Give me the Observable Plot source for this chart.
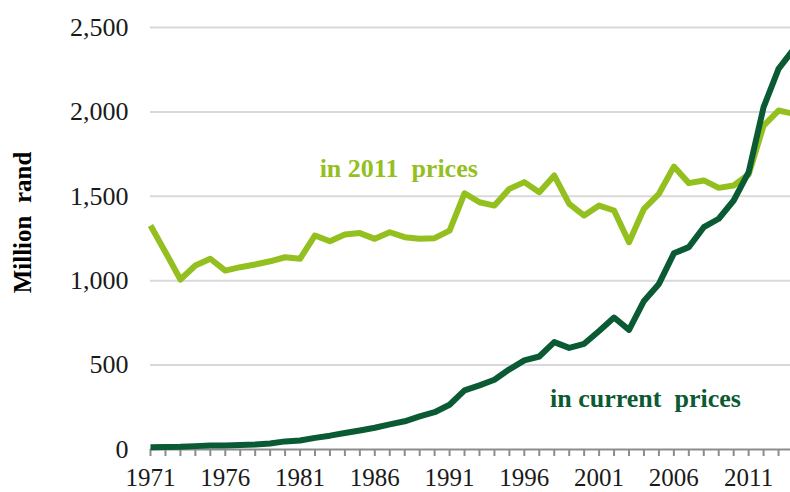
<!DOCTYPE html>
<html>
<head>
<meta charset="utf-8">
<script src="https://cdn.jsdelivr.net/npm/d3@7"></script>
<script src="https://cdn.jsdelivr.net/npm/@observablehq/plot@0.6"></script>
<style>
  html, body { margin: 0; padding: 0; background: #ffffff; }
  #chart svg { display: block; }
</style>
</head>
<body>
<div id="chart"></div>
<script>
const years = [1971, 1972, 1973, 1974, 1975, 1976, 1977, 1978, 1979, 1980,
  1981, 1982, 1983, 1984, 1985, 1986, 1987, 1988, 1989, 1990,
  1991, 1992, 1993, 1994, 1995, 1996, 1997, 1998, 1999, 2000,
  2001, 2002, 2003, 2004, 2005, 2006, 2007, 2008, 2009, 2010,
  2011, 2012, 2013, 2014];

const in2011Prices = [1327, 1169, 1007, 1090, 1130, 1060, 1080, 1096, 1115, 1139,
  1130, 1268, 1234, 1274, 1282, 1248, 1287, 1258, 1248, 1252,
  1297, 1518, 1465, 1445, 1544, 1584, 1524, 1623, 1455, 1386,
  1445, 1416, 1228, 1426, 1515, 1676, 1578, 1594, 1550, 1564,
  1629, 1919, 2008, 1989];

const inCurrentPrices = [14, 15, 16, 20, 23, 24, 27, 29, 36, 48,
  53, 69, 82, 98, 113, 129, 149, 167, 196, 221,
  265, 350, 380, 413, 475, 528, 551, 636, 602, 626,
  702, 782, 709, 880, 981, 1162, 1199, 1317, 1367, 1475,
  1643, 2028, 2255, 2370];

const yTicks = [0, 500, 1000, 1500, 2000, 2500];
const xLabelYears = [1971, 1976, 1981, 1986, 1991, 1996, 2001, 2006, 2011];
const seriesLabels = ["in 2011\u00a0 prices", "in current\u00a0 prices"];
const seriesColors = ["#93c01f", "#0a5a33"];
const axisTitle = "Million\u00a0 rand";
// annotation anchors, in data units (year, million rand)
const labelYears = [1987.6, 2004.1];
const labelValues = [1666, 304];

const rows = years.map((year, i) => ({ year, real: in2011Prices[i], nominal: inCurrentPrices[i] }));
const annotations = seriesLabels.map((text, i) => ({
  text, x: labelYears[i], y: labelValues[i], color: seriesColors[i]
}));

const font = "'Liberation Serif', 'Times New Roman', serif";

const chart = Plot.plot({
  width: 790,
  height: 492,
  marginLeft: 150,
  marginRight: -3,
  marginTop: 27,
  marginBottom: 43,
  style: { fontFamily: font, fontSize: "26px", color: "#1a1a1a", background: "#ffffff", overflow: "hidden" },
  x: { domain: [1971, 2014] },
  y: { domain: [0, 2500] },
  marks: [
    Plot.gridY(yTicks.filter(d => d > 0), { stroke: "#d9d9d9", strokeOpacity: 1, strokeWidth: 2 }),
    Plot.axisY(yTicks, {
      tickSize: 0, tickPadding: 22, tickFormat: d3.format(","),
      fontSize: 26, fill: "#1a1a1a", label: null
    }),
    Plot.ruleY([0], { stroke: "#8c8c8c", strokeWidth: 2 }),
    Plot.axisX(years, { tickSize: 7, tickFormat: () => "", stroke: "#8c8c8c", strokeWidth: 2, label: null }),
    Plot.axisX(xLabelYears, {
      tickSize: 0, tickPadding: 19, tickFormat: d => String(d),
      fontSize: 25, fill: "#1a1a1a", label: null
    }),
    Plot.line(rows, { x: "year", y: "real", stroke: seriesColors[0], strokeWidth: 6, strokeLinejoin: "round", strokeLinecap: "butt" }),
    Plot.line(rows, { x: "year", y: "nominal", stroke: seriesColors[1], strokeWidth: 6, strokeLinejoin: "round", strokeLinecap: "butt" }),
    Plot.text(annotations, {
      x: "x", y: "y", text: "text", fill: "color",
      fontSize: 26, fontWeight: "bold", textAnchor: "middle", lineAnchor: "middle"
    }),
    Plot.text([axisTitle], {
      text: d => d, frameAnchor: "left", rotate: -90, dx: -128, dy: -16,
      fontSize: 25, fontWeight: "bold", fill: "#000000", textAnchor: "middle", lineAnchor: "middle"
    })
  ]
});

document.getElementById("chart").appendChild(chart);
</script>
</body>
</html>
